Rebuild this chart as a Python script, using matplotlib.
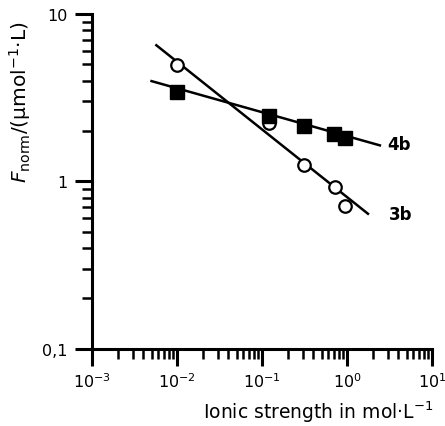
import matplotlib
matplotlib.use("Agg")
import matplotlib.pyplot as plt
from matplotlib.ticker import LogLocator, FixedLocator, FixedFormatter, NullFormatter

# measured points (ionic strength in mol/L, F_norm)
x_3b = [0.01, 0.12, 0.31, 0.72, 0.95]
y_3b = [4.95, 2.22, 1.25, 0.93, 0.71]
x_4b = [0.01, 0.12, 0.31, 0.70, 0.95]
y_4b = [3.41, 2.45, 2.13, 1.91, 1.81]

# fitted lines (end points)
fit_3b_x = [0.0057, 1.76]
fit_3b_y = [6.5, 0.64]
fit_4b_x = [0.005, 2.43]
fit_4b_y = [3.97, 1.64]

y_ticks = [0.1, 1, 10]
y_ticklabels = ["0,1", "1", "10"]

plt.rcParams["font.family"] = ["DejaVu Sans"]

fig = plt.figure(figsize=(4.45, 4.27), dpi=100)
ax = fig.add_axes([0.207, 0.181, 0.764, 0.784])

ax.plot(fit_3b_x, fit_3b_y, color="black", lw=1.8, zorder=2)
ax.plot(fit_4b_x, fit_4b_y, color="black", lw=1.8, zorder=2)
ax.plot(x_3b, y_3b, "o", ms=9, mfc="white", mec="black", mew=1.6, zorder=3)
ax.plot(x_4b, y_4b, "s", ms=9.5, mfc="black", mec="black", zorder=3)

ax.text(3.0, 1.66, "4b", fontsize=12, fontweight="bold", va="center", ha="left")
ax.text(3.1, 0.64, "3b", fontsize=12, fontweight="bold", va="center", ha="left")

ax.set_xscale("log")
ax.set_yscale("log")
ax.set_xlim(1e-3, 10)
ax.set_ylim(0.1, 10)

ax.yaxis.set_major_locator(FixedLocator(y_ticks))
ax.yaxis.set_major_formatter(FixedFormatter(y_ticklabels))
ax.yaxis.set_minor_locator(LogLocator(base=10, subs=range(2, 10), numticks=20))
ax.yaxis.set_minor_formatter(NullFormatter())
ax.xaxis.set_major_locator(LogLocator(base=10, numticks=10))
ax.xaxis.set_minor_locator(LogLocator(base=10, subs=range(2, 10), numticks=20))
ax.xaxis.set_minor_formatter(NullFormatter())

for s in ["top", "right"]:
    ax.spines[s].set_visible(False)
for s in ["left", "bottom"]:
    ax.spines[s].set_linewidth(2.2)

ax.tick_params(which="major", direction="out", length=12.5, width=2.2, labelsize=11.5)
ax.tick_params(which="minor", direction="out", length=7, width=1.8)
ax.tick_params(axis="x", which="major", pad=4)
ax.tick_params(axis="y", which="major", pad=5)

ax.set_ylabel(r"$F_{\mathrm{norm}}$/(µmol$^{-1}$·L)", fontsize=14.5)
ax.set_xlabel(r"Ionic strength in mol·L$^{-1}$", fontsize=13.5)
ax.xaxis.set_label_coords(1.005, -0.15)
ax.xaxis.label.set_ha("right")
ax.yaxis.set_label_coords(-0.175, 0.74)

fig.savefig("out.png", dpi=100)
